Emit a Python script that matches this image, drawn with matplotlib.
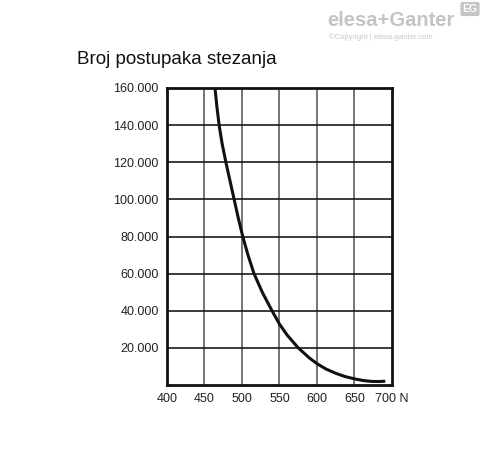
import matplotlib
matplotlib.use("Agg")
import matplotlib.pyplot as plt
from matplotlib.ticker import FuncFormatter

# values
force_n = [464, 466.5, 469.5, 473.5, 478.5, 484, 489.5, 495, 501, 508, 516, 527, 540,
           550, 560, 575, 590, 600, 612, 625, 637, 650, 662, 672, 682, 691]
cycles = [160000, 150000, 140000, 130000, 120000, 110000, 100000, 90000, 80000,
          70000, 60000, 50000, 40000, 32800, 27000, 20000, 14500, 11500, 8600,
          6300, 4600, 3300, 2400, 1950, 1850, 2050]

x_ticks = [400, 450, 500, 550, 600, 650, 700]
x_labels = ["400", "450", "500", "550", "600", "650", "700 N"]
y_ticks = [20000, 40000, 60000, 80000, 100000, 120000, 140000, 160000]

title = "Broj postupaka stezanja"

plt.rcParams['font.family'] = ['Liberation Sans', 'DejaVu Sans']

fig = plt.figure(figsize=(4.88, 4.54), dpi=100)
ax = fig.add_axes([167 / 488, 69 / 454, 225 / 488, 297 / 454])

# grid: vertical lines grey, horizontal darker
for x in x_ticks[1:-1]:
    ax.axvline(x, color='#6a6a6a', lw=1.3, zorder=1)
for y in y_ticks[:-1]:
    ax.axhline(y, color='#1a1a1a', lw=1.2, zorder=1)

ax.plot(force_n, cycles, color='#111111', lw=2.2, zorder=3,
        solid_capstyle='butt', solid_joinstyle='round')

ax.set_xlim(400, 700)
ax.set_ylim(0, 160000)
ax.set_xticks(x_ticks)
ax.set_xticklabels(x_labels)
ax.set_yticks(y_ticks)
ax.yaxis.set_major_formatter(FuncFormatter(lambda v, p: f"{int(v):,}".replace(",", ".")))
ax.tick_params(length=0, labelsize=9, colors='#222222', pad=6)

for s in ax.spines.values():
    s.set_linewidth(2)
    s.set_color('#111111')

fig.text(77 / 488, 1 - 59 / 454, title, fontsize=13.5, color='#111111',
         ha='left', va='center')

# watermark
fig.text(455 / 488, 1 - 21 / 454, "elesa+Ganter", fontsize=14.5, color='#c4c4c4',
         ha='right', va='center', fontweight='bold')
fig.text(433 / 488, 1 - 37 / 454, "©Copyright | elesa-ganter.com", fontsize=5.5,
         color='#c8c8c8', ha='right', va='center')
fig.text(470 / 488, 1 - 9 / 454, "EG", fontsize=7.5, color='white', ha='center', va='center',
         fontweight='bold', bbox=dict(boxstyle='round,pad=0.2', fc='#c4c4c4', ec='none'))

fig.savefig("out.png", dpi=100)
